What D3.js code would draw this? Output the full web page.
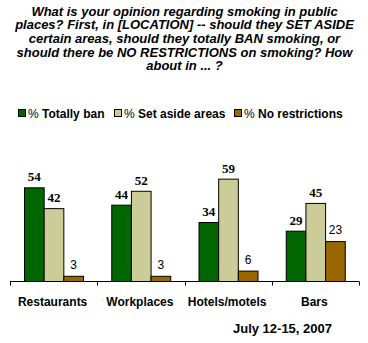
<!DOCTYPE html>
<html>
<head>
<meta charset="utf-8">
<script src="https://cdn.jsdelivr.net/npm/d3@7"></script>
<style>
  html, body { margin: 0; padding: 0; background: #fff; }
  svg { display: block; }
</style>
</head>
<body>
<svg id="chart" width="368" height="343"></svg>
<script>
// Question wording, one line per entry
const titleLines = [
  "What is your opinion regarding smoking in public",
  "places? First, in [LOCATION] -- should they SET ASIDE",
  "certain areas, should they totally BAN smoking, or",
  "should there be NO RESTRICTIONS on smoking? How",
  "about in ... ?"
];

const categories = ["Restaurants", "Workplaces", "Hotels/motels", "Bars"];
const seriesNames = ["% Totally ban", "% Set aside areas", "% No restrictions"];
const totallyBan = [54, 44, 34, 29];
const setAside = [42, 52, 59, 45];
const noRestrictions = [3, 3, 6, 23];
const fieldDates = "July 12-15, 2007";

const seriesValues = [totallyBan, setAside, noRestrictions];
const colors = ["#006600", "#CCCC99", "#996600"];

const svg = d3.select("#chart");
const W = 368;

// Title
const title = svg.append("g")
  .attr("font-family", "Liberation Sans, Arial, sans-serif")
  .attr("font-size", 13)
  .attr("font-weight", "bold")
  .attr("font-style", "italic")
  .attr("fill", "#000")
  .attr("text-anchor", "middle");
title.selectAll("text").data(titleLines).join("text")
  .attr("x", W / 2 + 0.5)
  .attr("y", (d, i) => 15.5 + i * 13.7)
  .text(d => d);

// Legend
const legendX = [18, 114, 234];
const legend = svg.append("g")
  .attr("font-family", "Liberation Sans, Arial, sans-serif")
  .attr("font-size", 12);
const items = legend.selectAll("g").data(seriesNames).join("g")
  .attr("transform", (d, i) => `translate(${legendX[i]},0)`);
items.append("rect")
  .attr("x", 0.5).attr("y", 109.5)
  .attr("width", 7).attr("height", 7)
  .attr("fill", (d, i) => colors[i])
  .attr("stroke", "#000").attr("stroke-width", 1);
items.append("text")
  .attr("x", 10).attr("y", 117.5)
  .each(function(d) {
    const t = d3.select(this);
    t.append("tspan").attr("font-weight", "normal").text("% ");
    t.append("tspan").attr("font-weight", "bold").text(d.replace("% ", ""));
  });

// Scales
const x = d3.scaleBand().domain(categories).range([10, 359]).padding(0);
const inner = d3.scaleBand().domain(d3.range(3)).range([14, 73]).padding(0);
const y = d3.scaleLinear().domain([0, 100]).range([281, 107.5]);

// Bars
const groups = svg.append("g").selectAll("g").data(categories).join("g")
  .attr("transform", d => `translate(${x(d)},0)`);

groups.each(function(cat, ci) {
  const g = d3.select(this);
  seriesValues.forEach((vals, si) => {
    const v = vals[ci];
    g.append("rect")
      .attr("x", inner(si) + 0.5)
      .attr("y", y(v) + 0.5)
      .attr("width", inner.bandwidth())
      .attr("height", y(0) - y(v))
      .attr("fill", colors[si])
      .attr("stroke", "#000")
      .attr("stroke-width", 1);
    const lbl = g.append("text")
      .attr("x", inner(si) + inner.bandwidth() / 2 + 0.5)
      .attr("y", y(v) - (si === 2 ? 7 : 6))
      .attr("text-anchor", "middle")
      .attr("fill", "#000")
      .text(v);
    if (si === 2) {
      lbl.attr("font-family", "Liberation Sans, Arial, sans-serif").attr("font-size", 12);
    } else {
      lbl.attr("font-family", "Liberation Serif, Times New Roman, serif")
        .attr("font-size", 13).attr("font-weight", "bold");
    }
  });
});

// Category axis
const axis = svg.append("g").attr("transform", "translate(0,281.5)")
  .call(d3.axisBottom(x).tickSize(0).tickFormat(""));
axis.select(".domain").attr("d", "M10,0H359").attr("stroke", "#000");
const bounds = categories.map(c => x(c)).concat([x.range()[1]]);
axis.selectAll(".sep").data(bounds).join("line")
  .attr("class", "sep")
  .attr("x1", d => Math.round(d) + 0.5).attr("x2", d => Math.round(d) + 0.5)
  .attr("y1", 0).attr("y2", 4)
  .attr("stroke", "#000");

svg.append("g")
  .attr("font-family", "Liberation Sans, Arial, sans-serif")
  .attr("font-size", 12)
  .attr("font-weight", "bold")
  .attr("text-anchor", "middle")
  .selectAll("text").data(categories).join("text")
  .attr("x", d => x(d) + x.bandwidth() / 2 - 1)
  .attr("y", 305.5)
  .text(d => d);

// Field dates
svg.append("text")
  .attr("x", 332).attr("y", 333)
  .attr("text-anchor", "end")
  .attr("font-family", "Liberation Sans, Arial, sans-serif")
  .attr("font-size", 13)
  .attr("font-weight", "bold")
  .text(fieldDates);
</script>
</body>
</html>
